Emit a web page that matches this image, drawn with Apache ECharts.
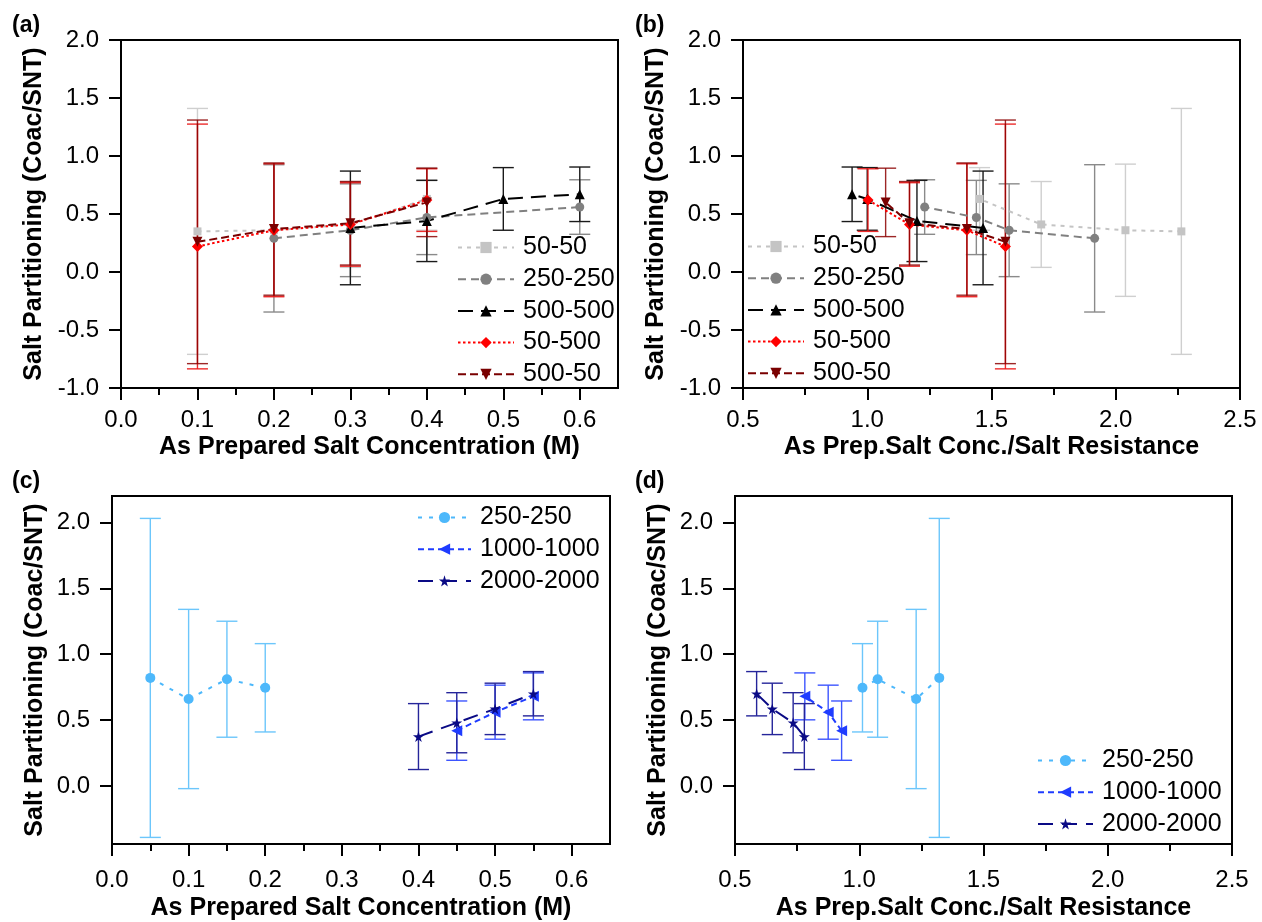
<!DOCTYPE html>
<html>
<head>
<meta charset="utf-8">
<script src="https://cdn.jsdelivr.net/npm/echarts@6/dist/echarts.min.js"></script>
<style>
html,body{margin:0;padding:0;background:#fff;}
#chart{width:1262px;height:922px;}
</style>
</head>
<body>
<div id="chart"></div>
<script>
// ---------- Panels (a)/(b) data ----------
const conc5050 = [0.1, 0.2, 0.3, 0.4];
const ratio5050 = [2.264, 2.039, 1.700, 1.452];
const part5050 = [0.35, 0.36, 0.41, 0.63];
const err5050 = [1.06, 0.57, 0.37, 0.27];

const conc250 = [0.2, 0.3, 0.4, 0.6];
const ratio250 = [1.915, 1.571, 1.439, 1.231];
const part250 = [0.29, 0.36, 0.47, 0.56];
const err250 = [0.635, 0.40, 0.32, 0.235];

const conc500 = [0.3, 0.4, 0.5, 0.6];
const ratio500 = [1.466, 1.200, 1.000, 0.939];
const part500 = [0.38, 0.44, 0.63, 0.67];
const err500 = [0.49, 0.35, 0.27, 0.235];

const conc50_500 = [0.1, 0.2, 0.3, 0.4];
const ratio50_500 = [1.556, 1.401, 1.170, 1.003];
const part50_500 = [0.22, 0.36, 0.41, 0.62];
const err50_500 = [1.055, 0.573, 0.36, 0.27];

const conc500_50 = [0.1, 0.2, 0.3, 0.4];
const ratio500_50 = [1.556, 1.401, 1.170, 1.074];
const part500_50 = [0.26, 0.37, 0.42, 0.60];
const err500_50 = [1.05, 0.57, 0.36, 0.295];

// ---------- Panels (c)/(d) data ----------
const concB250 = [0.05, 0.1, 0.15, 0.2];
const ratioB250 = [1.322, 1.229, 1.074, 1.013];
const partB250 = [0.82, 0.66, 0.81, 0.745];
const errB250 = [1.21, 0.68, 0.44, 0.335];

const conc1000 = [0.45, 0.5, 0.55];
const ratio1000 = [0.929, 0.875, 0.781];
const part1000 = [0.42, 0.56, 0.68];
const err1000 = [0.225, 0.205, 0.178];

const conc2000 = [0.4, 0.45, 0.5, 0.55];
const ratio2000 = [0.779, 0.734, 0.650, 0.587];
const part2000 = [0.375, 0.48, 0.585, 0.70];
const err2000 = [0.25, 0.228, 0.195, 0.168];

// ---------- Tick labels ----------
const concTicks = [0, 0.1, 0.2, 0.3, 0.4, 0.5, 0.6];
const concMinor = [0.05, 0.15, 0.25, 0.35, 0.45, 0.55];
const ratioTicks = [0.5, 1.0, 1.5, 2.0, 2.5];
const ratioMinor = [0.75, 1.25, 1.75, 2.25];
const yTicksAB = [-1.0, -0.5, 0, 0.5, 1.0, 1.5, 2.0];
const yTicksCD = [0, 0.5, 1.0, 1.5, 2.0];

const FONT = "'Liberation Sans', Arial, Helvetica, sans-serif";
const STAR = 'path://M50,0 L61,35 L98,35 L68,57 L79,91 L50,70 L21,91 L32,57 L2,35 L39,35 Z';

const grids = [
  {left: 121, top: 40, width: 497, height: 348},
  {left: 743, top: 40, width: 497, height: 348},
  {left: 112, top: 496, width: 498, height: 348},
  {left: 735, top: 496, width: 497, height: 348}
];

function mainX(gi, min, max, ticks, name, margin, gap) {
  return {
    type: 'value', gridIndex: gi, min: min, max: max, position: 'bottom',
    axisLine: {show: true, onZero: false, lineStyle: {color: '#000', width: 2}},
    axisTick: {show: true, customValues: ticks, length: 12, lineStyle: {color: '#000', width: 2}},
    axisLabel: {customValues: ticks, fontSize: 24, color: '#000', fontFamily: FONT, margin: margin,
      formatter: v => Number(v).toFixed(1)},
    splitLine: {show: false},
    name: name, nameLocation: 'middle', nameGap: gap,
    nameTextStyle: {fontSize: 25, fontWeight: 'bold', color: '#000', fontFamily: FONT}
  };
}
function minorX(gi, min, max, ticks) {
  return {
    type: 'value', gridIndex: gi, min: min, max: max, position: 'bottom',
    axisLine: {show: false, onZero: false},
    axisTick: {show: true, customValues: ticks, length: 7, lineStyle: {color: '#000', width: 2}},
    axisLabel: {show: false},
    splitLine: {show: false}
  };
}
function mainY(gi, min, max, ticks, gap) {
  return {
    type: 'value', gridIndex: gi, min: min, max: max, position: 'left',
    axisLine: {show: true, onZero: false, lineStyle: {color: '#000', width: 2}},
    axisTick: {show: true, customValues: ticks, length: 12, lineStyle: {color: '#000', width: 2}},
    axisLabel: {customValues: ticks, fontSize: 24, color: '#000', fontFamily: FONT, margin: 22,
      formatter: v => Number(v).toFixed(1)},
    splitLine: {show: false},
    name: 'Salt Partitioning (Coac/SNT)', nameLocation: 'middle', nameGap: gap,
    nameTextStyle: {fontSize: 25, fontWeight: 'bold', color: '#000', fontFamily: FONT}
  };
}

function lineSeries(name, axisIdx, xs, ys, color, dash, symbol, size, rotate) {
  return {
    type: 'line', name: name, xAxisIndex: axisIdx, yAxisIndex: axisIdx,
    data: xs.map((v, i) => [v, ys[i]]),
    symbol: symbol, symbolSize: size, symbolRotate: rotate || 0,
    itemStyle: {color: color},
    lineStyle: {color: color, width: 2, type: dash},
    z: 4, animation: false
  };
}
function errSeries(name, axisIdx, xs, ys, es, color) {
  return {
    type: 'custom', name: 'err_' + name, xAxisIndex: axisIdx, yAxisIndex: axisIdx,
    data: xs.map((v, i) => [v, ys[i], es[i]]),
    encode: {x: 0, y: 1}, silent: true, z: 2, animation: false,
    renderItem: function (params, api) {
      const x = api.value(0), y = api.value(1), e = api.value(2);
      const t = api.coord([x, y + e]);
      const b = api.coord([x, y - e]);
      const w = 10.5;
      const st = {stroke: color, lineWidth: 1.4};
      return {type: 'group', children: [
        {type: 'line', shape: {x1: t[0], y1: t[1], x2: b[0], y2: b[1]}, style: st},
        {type: 'line', shape: {x1: t[0] - w, y1: t[1], x2: t[0] + w, y2: t[1]}, style: st},
        {type: 'line', shape: {x1: b[0] - w, y1: b[1], x2: b[0] + w, y2: b[1]}, style: st}
      ]};
    }
  };
}

const C = {
  c5050: '#c4c4c4', e5050: '#cfcfcf',
  c250: '#808080', e250: '#8a8a8a',
  c500: '#000000', e500: '#1a1a1a',
  c50500: '#ff0000', e50500: 'rgba(235,20,20,0.9)',
  c50050: '#7a0000', e50050: 'rgba(140,0,0,0.85)',
  cb250: '#4db8fb', eb250: '#6cc6fb',
  c1000: '#1f3cff', e1000: '#3d55ff',
  c2000: '#0a0a85', e2000: '#25259a'
};
const D = {
  d5050: [4, 5], d250: [8, 5], d500: [15, 8], d50500: [2.5, 2.5], d50050: [8, 4],
  db250: [4, 7], d1000: [6, 4], d2000: [15, 9]
};

const series = [];
// panel a (axis 0) and b (axis 1)
[[0, 'a'], [1, 'b']].forEach(([ax, p]) => {
  const X = (conc, ratio) => p === 'a' ? conc : ratio;
  series.push(errSeries(p + ':50-50', ax, X(conc5050, ratio5050), part5050, err5050, C.e5050));
  series.push(errSeries(p + ':250-250', ax, X(conc250, ratio250), part250, err250, C.e250));
  series.push(errSeries(p + ':500-500', ax, X(conc500, ratio500), part500, err500, C.e500));
  series.push(errSeries(p + ':50-500', ax, X(conc50_500, ratio50_500), part50_500, err50_500, C.e50500));
  series.push(errSeries(p + ':500-50', ax, X(conc500_50, ratio500_50), part500_50, err500_50, C.e50050));
  series.push(lineSeries(p + ':50-50', ax, X(conc5050, ratio5050), part5050, C.c5050, D.d5050, 'rect', 8));
  series.push(lineSeries(p + ':250-250', ax, X(conc250, ratio250), part250, C.c250, D.d250, 'circle', 9));
  series.push(lineSeries(p + ':500-500', ax, X(conc500, ratio500), part500, C.c500, D.d500, 'triangle', 10));
  series.push(lineSeries(p + ':50-500', ax, X(conc50_500, ratio50_500), part50_500, C.c50500, D.d50500, 'diamond', 11));
  series.push(lineSeries(p + ':500-50', ax, X(conc500_50, ratio500_50), part500_50, C.c50050, D.d50050, 'triangle', 10, 180));
});
// panel c (axis 2) and d (axis 3)
[[2, 'c'], [3, 'd']].forEach(([ax, p]) => {
  const X = (conc, ratio) => p === 'c' ? conc : ratio;
  series.push(errSeries(p + ':250-250', ax, X(concB250, ratioB250), partB250, errB250, C.eb250));
  series.push(errSeries(p + ':1000-1000', ax, X(conc1000, ratio1000), part1000, err1000, C.e1000));
  series.push(errSeries(p + ':2000-2000', ax, X(conc2000, ratio2000), part2000, err2000, C.e2000));
  series.push(lineSeries(p + ':250-250', ax, X(concB250, ratioB250), partB250, C.cb250, D.db250, 'circle', 10));
  series.push(lineSeries(p + ':1000-1000', ax, X(conc1000, ratio1000), part1000, C.c1000, D.d1000, 'triangle', 11, 90));
  series.push(lineSeries(p + ':2000-2000', ax, X(conc2000, ratio2000), part2000, C.c2000, D.d2000, STAR, 11));
});

function legend(names, left, top, w) {
  return {
    data: names, orient: 'vertical', left: left, top: top,
    itemWidth: w, itemHeight: 14, itemGap: 6.7,
    textStyle: {fontSize: 25, color: '#000', fontFamily: FONT, lineHeight: 25, padding: [0, 0, 0, 4]},
    formatter: n => n.split(':')[1],
    selectedMode: false, backgroundColor: 'transparent', borderWidth: 0, padding: 0
  };
}

const option = {
  backgroundColor: '#fff',
  animation: false,
  grid: grids.map(g => Object.assign({show: true, borderColor: '#000', borderWidth: 2, backgroundColor: 'transparent'}, g)),
  xAxis: [
    mainX(0, 0, 0.65, concTicks, 'As Prepared Salt Concentration (M)', 20, 47),
    mainX(1, 0.5, 2.5, ratioTicks, 'As Prep.Salt Conc./Salt Resistance', 20, 47),
    mainX(2, 0, 0.65, concTicks, 'As Prepared Salt Concentration (M)', 24, 52),
    mainX(3, 0.5, 2.5, ratioTicks, 'As Prep.Salt Conc./Salt Resistance', 24, 52),
    minorX(0, 0, 0.65, concMinor),
    minorX(1, 0.5, 2.5, ratioMinor),
    minorX(2, 0, 0.65, concMinor),
    minorX(3, 0.5, 2.5, ratioMinor)
  ],
  yAxis: [
    mainY(0, -1, 2, yTicksAB, 74),
    mainY(1, -1, 2, yTicksAB, 74),
    mainY(2, -0.44, 2.2, yTicksCD, 64),
    mainY(3, -0.44, 2.2, yTicksCD, 64)
  ],
  legend: [
    legend(['a:50-50', 'a:250-250', 'a:500-500', 'a:50-500', 'a:500-50'], 457, 235, 56),
    legend(['b:50-50', 'b:250-250', 'b:500-500', 'b:50-500', 'b:500-50'], 747, 234, 56),
    legend(['c:250-250', 'c:1000-1000', 'c:2000-2000'], 417, 505, 53),
    legend(['d:250-250', 'd:1000-1000', 'd:2000-2000'], 1037, 748, 55)
  ],
  graphic: [
    {type: 'text', left: 12, top: 14, style: {text: '(a)', font: "bold 23px " + FONT, fill: '#000'}},
    {type: 'text', left: 635, top: 14, style: {text: '(b)', font: "bold 23px " + FONT, fill: '#000'}},
    {type: 'text', left: 12, top: 470, style: {text: '(c)', font: "bold 23px " + FONT, fill: '#000'}},
    {type: 'text', left: 635, top: 470, style: {text: '(d)', font: "bold 23px " + FONT, fill: '#000'}}
  ],
  series: series
};

const chart = echarts.init(document.getElementById('chart'), null, {renderer: 'canvas'});
chart.setOption(option);
</script>
</body>
</html>
